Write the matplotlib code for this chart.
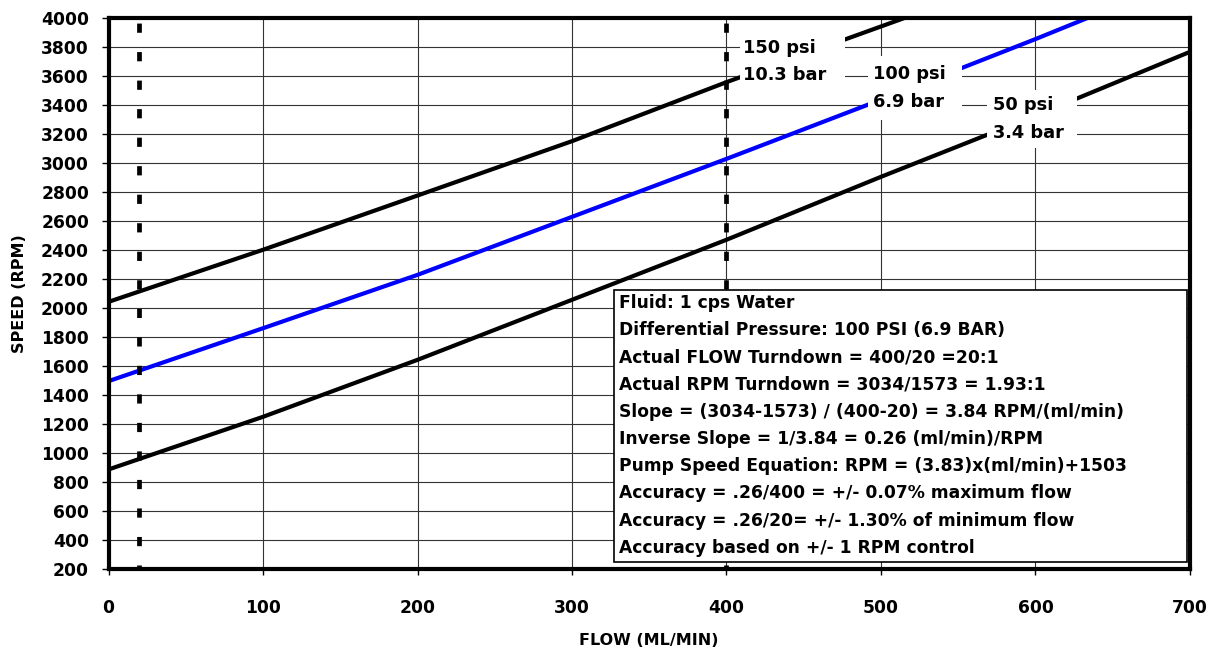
import matplotlib.pyplot as plt
from matplotlib.patches import Rectangle

plt.rcParams['font.family'] = ['DejaVu Sans']
plt.rcParams['font.weight'] = 'bold'

# values (flow in ml/min, speed in RPM)
flow = [0, 100, 200, 300, 400, 500, 600, 700]
rpm_150psi = [2046, 2405, 2779, 3154, 3561, 3945, 4330, 4720]
rpm_100psi = [1499, 1864, 2232, 2632, 3032, 3440, 3858, 4290]
rpm_50psi = [890, 1253, 1646, 2060, 2474, 2908, 3330, 3770]
min_flow = 20
max_flow = 400

xticks = list(range(0, 701, 100))
yticks = list(range(200, 4001, 200))

notes = ['Fluid: 1 cps Water',
         'Differential Pressure: 100 PSI (6.9 BAR)',
         'Actual FLOW Turndown = 400/20 =20:1',
         'Actual RPM Turndown = 3034/1573 = 1.93:1',
         'Slope = (3034-1573) / (400-20) = 3.84 RPM/(ml/min)',
         'Inverse Slope = 1/3.84 = 0.26 (ml/min)/RPM',
         'Pump Speed Equation: RPM = (3.83)x(ml/min)+1503',
         'Accuracy = .26/400 = +/- 0.07% maximum flow',
         'Accuracy = .26/20= +/- 1.30% of minimum flow',
         'Accuracy based on +/- 1 RPM control']

fig = plt.figure(figsize=(12.14, 6.49), dpi=100)
ax = fig.add_axes([0.0894, 0.1225, 0.8908, 0.849])

ax.plot(flow, rpm_150psi, color='black', lw=3, zorder=3)
ax.plot(flow, rpm_100psi, color='#0000ff', lw=3, zorder=3)
ax.plot(flow, rpm_50psi, color='black', lw=3, zorder=3)

# turndown limits
for xv in [min_flow, max_flow]:
    ax.axvline(xv, color='black', lw=3.4, linestyle=(1.1, (1.95, 4.09)), zorder=4)

ax.set_xlim(0, 700)
ax.set_ylim(200, 4000)
ax.set_xticks(xticks)
ax.set_yticks(yticks)
ax.grid(True, color='#333333', lw=0.8, zorder=1)
ax.set_axisbelow(True)

for s in ax.spines.values():
    s.set_linewidth(3)
    s.set_zorder(6)

ax.tick_params(axis='y', direction='out', length=5, width=1, pad=9, labelsize=12.3)
ax.tick_params(axis='x', direction='out', length=4, width=1, pad=17, labelsize=12.3)
for lab in ax.get_xticklabels() + ax.get_yticklabels():
    lab.set_fontweight('bold')

ax.set_xlabel('FLOW (ML/MIN)', fontsize=11.5, fontweight='bold', labelpad=12)
ax.set_ylabel('SPEED (RPM)', fontsize=11.5, fontweight='bold', labelpad=10)

# pressure labels on white patches that break the lines
labels = [(['150 psi', '10.3 bar'], 410.8, [3797, 3610], (408.5, 3493, 68, 428)),
          (['100 psi', '6.9 bar'], 494.9, [3617, 3424], (491.3, 3300, 61.4, 441)),
          (['50 psi', '3.4 bar'], 572.6, [3403, 3210], (568.9, 3107, 58.2, 400))]
for txt, lx, lys, (bx, by, bw, bh) in labels:
    ax.add_patch(Rectangle((bx, by), bw, bh, facecolor='white', edgecolor='none', zorder=5))
    for t, ly in zip(txt, lys):
        ax.text(lx, ly, t, fontsize=12.8, fontweight='bold', va='center', ha='left', zorder=6)

# notes box
ax.add_patch(Rectangle((0.4674, 0.0136), 0.5298, 0.4937, transform=ax.transAxes,
                       facecolor='white', edgecolor='black', lw=1.2, zorder=5))
for i, line in enumerate(notes):
    ax.text(0.472, 0.4837 - i * 0.04937, line, transform=ax.transAxes, fontsize=12.3,
            fontweight='bold', va='center', ha='left', zorder=6)

fig.savefig('out.png', dpi=100)
